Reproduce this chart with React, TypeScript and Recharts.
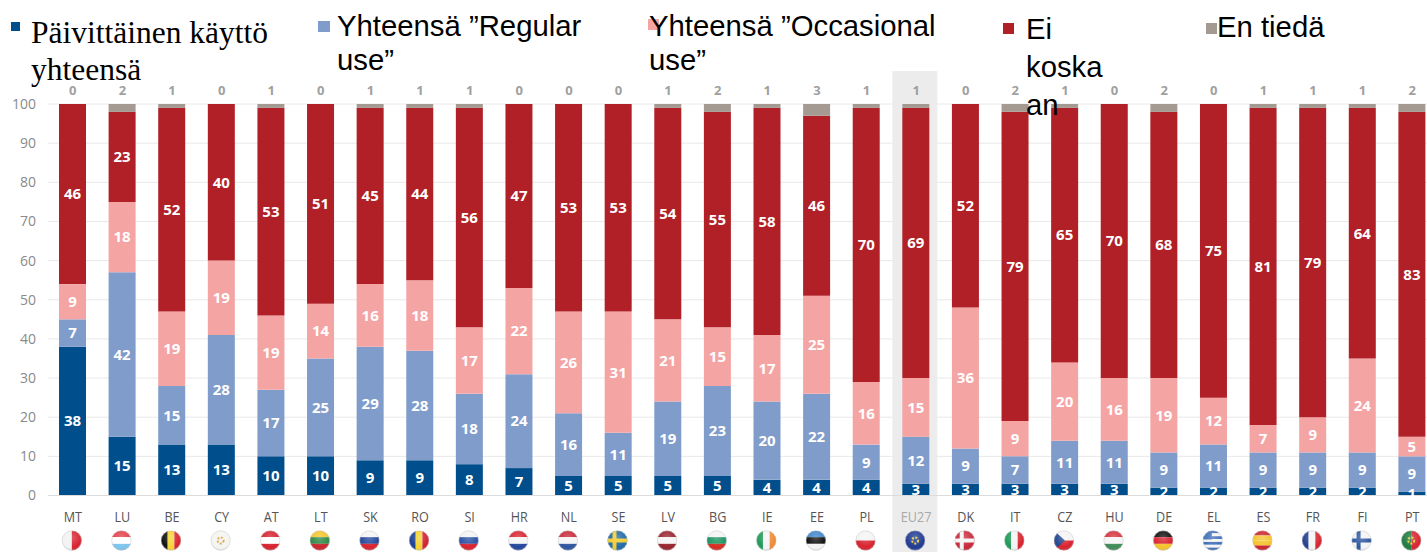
import React from 'react';
import {
  BarChart,
  Bar,
  XAxis,
  YAxis,
  CartesianGrid,
  LabelList,
  Legend,
  ReferenceArea
} from 'recharts';

const countries = ['MT', 'LU', 'BE', 'CY', 'AT', 'LT', 'SK', 'RO', 'SI', 'HR', 'NL', 'SE', 'LV', 'BG', 'IE', 'EE', 'PL', 'EU27', 'DK', 'IT', 'CZ', 'HU', 'DE', 'EL', 'ES', 'FR', 'FI', 'PT'];
const daily = [38, 15, 13, 13, 10, 10, 9, 9, 8, 7, 5, 5, 5, 5, 4, 4, 4, 3, 3, 3, 3, 3, 2, 2, 2, 2, 2, 1];
const regular = [7, 42, 15, 28, 17, 25, 29, 28, 18, 24, 16, 11, 19, 23, 20, 22, 9, 12, 9, 7, 11, 11, 9, 11, 9, 9, 9, 9];
const occasional = [9, 18, 19, 19, 19, 14, 16, 18, 17, 22, 26, 31, 21, 15, 17, 25, 16, 15, 36, 9, 20, 16, 19, 12, 7, 9, 24, 5];
const never = [46, 23, 52, 40, 53, 51, 45, 44, 56, 47, 53, 53, 54, 55, 58, 46, 70, 69, 52, 79, 65, 70, 68, 75, 81, 79, 64, 83];
const dontKnow = [0, 2, 1, 0, 1, 0, 1, 1, 1, 0, 0, 0, 1, 2, 1, 3, 1, 1, 0, 2, 1, 0, 2, 0, 1, 1, 1, 2];
const yTicks = [0, 10, 20, 30, 40, 50, 60, 70, 80, 90, 100];

const data = countries.map((country, i) => ({
  country,
  daily: daily[i],
  regular: regular[i],
  occasional: occasional[i],
  never: never[i],
  dontKnow: dontKnow[i],
}));

const colors = {
  daily: '#004f8c',
  regular: '#7f9ccb',
  occasional: '#f5a4a4',
  never: '#b11f27',
  dontKnow: '#a49a92',
};

// where each legend entry sits, the source image has them pasted in by hand
const legendLayout: Record<string, any> = {
  daily: { square: [11, 22, 9, 9], text: [31, 14], width: 270, lineHeight: 37, size: 31.5, font: '"Liberation Serif"' },
  regular: { square: [318, 21, 12, 11], text: [337, 9], width: 262, lineHeight: 34, size: 29.3, font: '"Liberation Sans"' },
  occasional: { square: [648, 19, 11, 11], text: [649, 9], width: 300, lineHeight: 34, size: 29.3, font: '"Liberation Sans"' },
  never: { square: [1003, 23, 11, 11], text: [1026, 10], width: 82, lineHeight: 38, size: 29.3, font: '"Liberation Sans"' },
  dontKnow: { square: [1206, 23, 11, 11], text: [1217, 10], width: 130, lineHeight: 34, size: 29.3, font: '"Liberation Sans"' },
};

function LegendBlock({ payload }: any) {
  return (
    <div style={{ position: 'absolute', left: 0, top: 0, width: 0, height: 0 }}>
      {(payload || []).map((entry: any) => {
        const l = legendLayout[entry.dataKey];
        return (
          <React.Fragment key={entry.dataKey}>
            <div
              style={{
                position: 'absolute',
                left: l.square[0],
                top: l.square[1],
                width: l.square[2],
                height: l.square[3],
                background: entry.color,
              }}
            />
            <div
              style={{
                position: 'absolute',
                left: l.text[0],
                top: l.text[1],
                width: l.width,
                fontFamily: l.font,
                fontSize: l.size,
                lineHeight: l.lineHeight + 'px',
                color: '#000',
                textAlign: 'left',
              }}
            >
              {entry.value}
            </div>
          </React.Fragment>
        );
      })}
    </div>
  );
}

// rough flag drawings, stripes + optional cross / extras
const flags: Record<string, any> = {
  MT: { v: ['#f2f2f2', '#d8232f'] },
  LU: { h: ['#e4404a', '#ffffff', '#7cc4ee'] },
  BE: { v: ['#111111', '#f5d431', '#d9232e'] },
  CY: { h: ['#f4f4f0'], dot: '#d9a441' },
  AT: { h: ['#d5232f', '#ffffff', '#d5232f'] },
  LT: { h: ['#f4c42c', '#2f8a45', '#c9252d'] },
  SK: { h: ['#f4f4f4', '#24479c', '#d8232f'] },
  RO: { v: ['#1c3f96', '#f5d22c', '#cf2230'] },
  SI: { h: ['#f4f4f4', '#2950a3', '#d8232f'] },
  HR: { h: ['#d8232f', '#f4f4f4', '#24479c'] },
  NL: { h: ['#c8283a', '#f4f4f4', '#2c569f'] },
  SE: { h: ['#1f6aa8'], cross: '#f2cb2d' },
  LV: { h: ['#97242f', '#f4f4f4', '#97242f'] },
  BG: { h: ['#f4f4f4', '#1d9460', '#d62b20'] },
  IE: { v: ['#1f9a58', '#f4f4f4', '#ee8a35'] },
  EE: { h: ['#3f86cc', '#111111', '#f4f4f4'] },
  PL: { h: ['#f4f4f4', '#d8232f'] },
  EU27: { h: ['#1f3a93'], dot: '#e4c93a' },
  DK: { h: ['#c8283a'], cross: '#f4f4f4' },
  IT: { v: ['#1f9a58', '#f4f4f4', '#d8232f'] },
  CZ: { h: ['#f4f4f4', '#d8232f'], wedge: '#23478f' },
  HU: { h: ['#d5323a', '#f4f4f4', '#3f8a57'] },
  DE: { h: ['#111111', '#d8232f', '#f4c42c'] },
  EL: { h: ['#3f6fb8', '#f4f4f4', '#3f6fb8', '#f4f4f4', '#3f6fb8', '#f4f4f4', '#3f6fb8'] },
  ES: { h: ['#c9252d', '#f4c42c', '#f4c42c', '#c9252d'] },
  FR: { v: ['#23408f', '#f4f4f4', '#d8232f'] },
  FI: { h: ['#f4f4f4'], cross: '#2c569f' },
  PT: { v: ['#1f7a3f', '#d8232f'], dot: '#e4c93a' },
};

function Flag({ code, x, y }: { code: string; x: number; y: number }) {
  const f = flags[code];
  const r = 10;
  const stripes = f.v || f.h;
  const size = (r * 2) / stripes.length;
  return (
    <g transform={`translate(${x},${y})`}>
      <clipPath id={`flag-${code}`}>
        <circle r={r} />
      </clipPath>
      <g clipPath={`url(#flag-${code})`}>
        {stripes.map((c: string, i: number) =>
          f.v ? (
            <rect key={i} x={-r + i * size} y={-r} width={size} height={r * 2} fill={c} />
          ) : (
            <rect key={i} x={-r} y={-r + i * size} width={r * 2} height={size} fill={c} />
          )
        )}
        {f.cross && (
          <g fill={f.cross}>
            <rect x={-5} y={-r} width={4} height={r * 2} />
            <rect x={-r} y={-2} width={r * 2} height={4} />
          </g>
        )}
        {f.wedge && <path d="M-10,-10 L1,0 L-10,10 Z" fill={f.wedge} />}
        {code === 'EL' && <rect x={-r} y={-r} width={9} height={9} fill="#3f6fb8" />}
        {f.dot && <circle r={3} fill="none" stroke={f.dot} strokeWidth={2} strokeDasharray="2 1.5" />}
      </g>
      <circle r={r} fill="url(#flagShade)" />
      <circle r={r - 0.3} fill="none" stroke="#c9c9c9" strokeWidth={0.5} />
    </g>
  );
}

function CountryTick({ x, y, payload }: any) {
  const isEu = payload.value === 'EU27';
  return (
    <g>
      <text
        x={x}
        y={y + 27}
        textAnchor="middle"
        fontFamily="Open Sans"
        fontSize={14}
        fill={isEu ? '#a9a9a9' : '#555555'}
        transform={`translate(${x},0) scale(0.9,1) translate(${-x},0)`}
      >
        {payload.value}
      </text>
      <Flag code={payload.value} x={x - 1} y={y + 45} />
    </g>
  );
}

// EU27 band runs past the plot, up over the top labels and down to the flags
function EuBand({ x }: any) {
  return <rect x={x + 1} y={71} width={45} height={481} fill="#ececec" />;
}

const valueLabel = { fill: '#ffffff', fontFamily: 'Open Sans', fontWeight: 700, fontSize: 15 };

export default function App() {
  return (
    <div style={{ position: 'absolute', left: 0, top: 0, width: 1427, height: 552, overflow: 'hidden', background: '#fff' }}>
      <BarChart
        data={data}
        width={1437}
        height={552}
        margin={{ top: 74, right: 0, bottom: 0, left: 0 }}
        barCategoryGap={0}
      >
        <defs>
          <radialGradient id="flagShade" cx="50%" cy="35%" r="70%">
            <stop offset="0%" stopColor="#ffffff" stopOpacity={0.25} />
            <stop offset="70%" stopColor="#ffffff" stopOpacity={0} />
            <stop offset="100%" stopColor="#000000" stopOpacity={0.2} />
          </radialGradient>
        </defs>
        <ReferenceArea x1="EU27" x2="EU27" ifOverflow="visible" shape={<EuBand />} zIndex={-1} />
        <CartesianGrid vertical={false} stroke="#e8e8e8" />
        <XAxis
          dataKey="country"
          interval={0}
          height={56.5}
          tickSize={0}
          tickMargin={0}
          axisLine={{ stroke: '#dcdcdc' }}
          tick={<CountryTick />}
        />
        {/* the "don't know" numbers sit in a row above the bars, zeros included */}
        <XAxis
          xAxisId="top"
          orientation="top"
          dataKey="country"
          interval={0}
          height={30}
          tickSize={0}
          tickMargin={9}
          axisLine={false}
          tickFormatter={(c: string) => String(dontKnow[countries.indexOf(c)])}
          tick={{ fill: '#a0a0a0', fontFamily: 'Open Sans', fontWeight: 700, fontSize: 13 }}
        />
        <YAxis
          domain={[0, 100]}
          ticks={yTicks}
          width={48}
          tickSize={0}
          tickMargin={12}
          axisLine={false}
          tick={{ fill: '#8a8a8a', fontSize: 14, fontFamily: 'Open Sans' }}
        />
        <Legend content={<LegendBlock />} itemSorter={null} wrapperStyle={{ left: 0, top: 0, bottom: 'auto', width: 0, height: 0 }} />
        <Bar dataKey="daily" name="Päivittäinen käyttö yhteensä" stackId="a" barSize={27} fill={colors.daily} isAnimationActive={false}>
          <LabelList dataKey="daily" position="center" style={valueLabel} />
        </Bar>
        <Bar dataKey="regular" name="Yhteensä ”Regular use”" stackId="a" barSize={27} fill={colors.regular} isAnimationActive={false}>
          <LabelList dataKey="regular" position="center" style={valueLabel} />
        </Bar>
        <Bar dataKey="occasional" name="Yhteensä ”Occasional use”" stackId="a" barSize={27} fill={colors.occasional} isAnimationActive={false}>
          <LabelList dataKey="occasional" position="center" style={valueLabel} />
        </Bar>
        <Bar dataKey="never" name="Ei koska an" stackId="a" barSize={27} fill={colors.never} isAnimationActive={false}>
          <LabelList dataKey="never" position="center" style={valueLabel} />
        </Bar>
        <Bar dataKey="dontKnow" name="En tiedä" stackId="a" barSize={27} fill={colors.dontKnow} isAnimationActive={false} />
      </BarChart>
    </div>
  );
}
